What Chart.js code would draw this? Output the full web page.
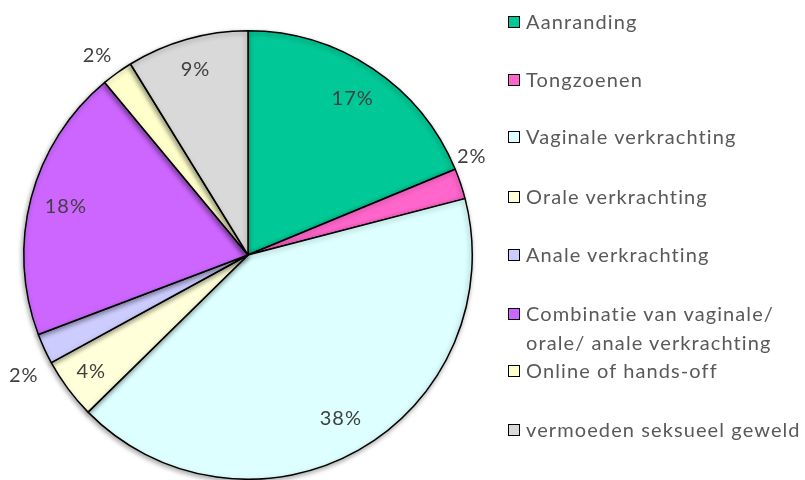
<!DOCTYPE html>
<html><head><meta charset="utf-8">
<script src="https://cdn.jsdelivr.net/npm/chart.js@4.4.1/dist/chart.umd.min.js"></script>
<style>
html,body{margin:0;padding:0;background:#fff;overflow:hidden;width:805px;height:480px;}
#wrap{position:relative;width:805px;height:480px;}
canvas{position:absolute;left:0;top:0;}
#legend{position:absolute;left:0;top:0;width:805px;height:480px;pointer-events:none;font-family:Lato,"Open Sans",sans-serif;font-size:20px;letter-spacing:1.1px;color:#595959;}
.item{position:absolute;left:508px;display:flex;align-items:flex-start;line-height:29px;white-space:nowrap;}
.box{width:10px;height:10px;border:1.5px solid #000;margin-top:9px;margin-right:6px;flex:none;}
</style></head>
<body><div id="wrap"><canvas id="c" width="805" height="480"></canvas><div id="legend"></div></div>
<script>
const categories = ["Aanranding","Tongzoenen","Vaginale verkrachting","Orale verkrachting","Anale verkrachting","Combinatie van vaginale/ orale/ anale verkrachting","Online of hands-off","vermoeden seksueel geweld"];
const values = [17.1, 2.0, 38.0, 4.0, 2.0, 18.0, 2.05, 8.0];
const shownPercent = ["17%","2%","38%","4%","2%","18%","2%","9%"];
const colors = ["#00C896","#FF66CC","#DDFFFF","#FFFFD9","#CCCCFF","#CC66FF","#FFFFCC","#D9D9D9"];
const labelRadius = [0.84,1.09,0.84,0.87,1.135,0.84,1.114,0.86];
const labelNudgeDeg = [0,-5.2,0,0,-3.5,0,-1.4,0];
const legendLines = [["Aanranding"],["Tongzoenen"],["Vaginale verkrachting"],["Orale verkrachting"],["Anale verkrachting"],["Combinatie van vaginale/","orale/ anale verkrachting"],["Online of hands-off"],["vermoeden seksueel geweld"]];
const legendTop = [7,65,122,182,240,299,356,415];

const lg = document.getElementById('legend');
categories.forEach((c,i)=>{
  const d=document.createElement('div');d.className='item';d.style.top=legendTop[i]+'px';
  const b=document.createElement('div');b.className='box';b.style.background=colors[i];
  const t=document.createElement('div');t.innerHTML=legendLines[i].join('<br>');
  d.appendChild(b);d.appendChild(t);lg.appendChild(d);
});

const labelPlugin = {
  id:'pctLabels',
  afterDatasetsDraw(chart){
    const ctx=chart.ctx;const meta=chart.getDatasetMeta(0);
    ctx.save();
    ctx.font='20px Lato, "Open Sans", sans-serif';ctx.fillStyle='#404040';
    if('letterSpacing' in ctx) ctx.letterSpacing='1px';
    ctx.textAlign='center';ctx.textBaseline='middle';
    meta.data.forEach((arc,i)=>{
      const p=arc.getProps(['x','y','startAngle','endAngle','outerRadius'],true);
      const a=(p.startAngle+p.endAngle)/2+labelNudgeDeg[i]*Math.PI/180;const r=p.outerRadius*labelRadius[i];
      ctx.fillText(shownPercent[i],p.x+Math.cos(a)*r,p.y+Math.sin(a)*r);
    });
    ctx.restore();
  }
};
const shadowPlugin = {
  id:'shadow',
  beforeDatasetsDraw(chart){const ctx=chart.ctx;ctx.save();ctx.shadowColor='rgba(0,0,0,0.35)';ctx.shadowBlur=5;ctx.shadowOffsetX=-1;ctx.shadowOffsetY=2;},
  afterDatasetsDraw(chart){chart.ctx.restore();}
};

new Chart(document.getElementById('c'),{
  type:'pie',
  data:{labels:categories,datasets:[{data:values,backgroundColor:colors,borderColor:'#000',borderWidth:1.5}]},
  options:{responsive:false,animation:false,
    layout:{padding:{left:23,top:30,right:332,bottom:0}},
    plugins:{legend:{display:false},tooltip:{enabled:false}}},
  plugins:[shadowPlugin,labelPlugin]
});
</script></body></html>
